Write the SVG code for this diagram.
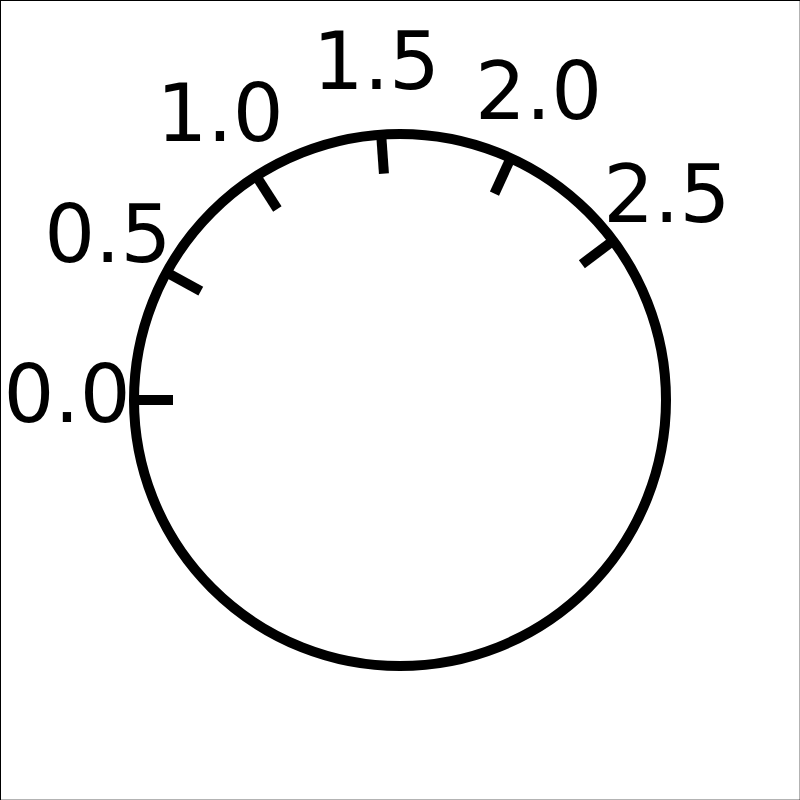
<svg xmlns="http://www.w3.org/2000/svg" width="800" height="800" viewBox="0 0 800 800">
<style>
.lbl{font-family:"DejaVu Sans","Liberation Sans",sans-serif;font-size:80px;fill:#000;text-anchor:middle}
.tick{stroke:#000;stroke-width:10;fill:none}
</style>
<rect x="0.5" y="0.5" width="799.7" height="799.7" fill="#fff" stroke="#000" stroke-width="1"/>
<g id="dial">
<circle cx="400" cy="400" r="266" fill="none" stroke="#000" stroke-width="10"/>
</g>
<g id="ticks">
<line class="tick" x1="134" y1="400" x2="173" y2="400"/>
<line class="tick" x1="166.56" y1="272.47" x2="200.79" y2="291.17"/>
<line class="tick" x1="256.28" y1="176.17" x2="277.35" y2="208.99"/>
<line class="tick" x1="381.18" y1="134.67" x2="383.94" y2="173.57"/>
<line class="tick" x1="510.70" y1="158.13" x2="494.47" y2="193.59"/>
<line class="tick" x1="613.10" y1="240.81" x2="581.86" y2="264.15"/>
</g>
<g id="labels">
<text class="lbl" x="67" y="421.5">0.0</text>
<text class="lbl" x="107.8" y="261.8">0.5</text>
<text class="lbl" x="220.1" y="141.3">1.0</text>
<text class="lbl" x="376.4" y="89.3">1.5</text>
<text class="lbl" x="538.6" y="118.7">2.0</text>
<text class="lbl" x="666.8" y="222.2">2.5</text>
</g>
</svg>
